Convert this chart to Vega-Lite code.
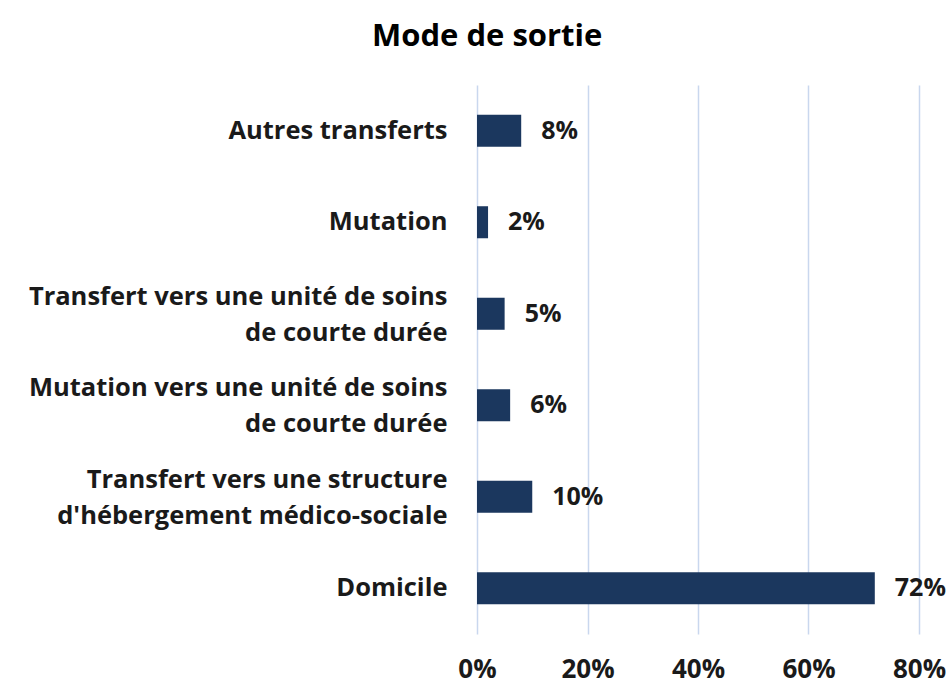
{
  "$schema": "https://vega.github.io/schema/vega-lite/v6.json",
  "width": 442,
  "height": 549,
  "autosize": {"type": "none"},
  "padding": {"left": 477, "top": 85, "right": 30, "bottom": 51},
  "background": "white",
  "title": {"text": "Mode de sortie", "anchor": "middle", "frame": "bounds", "fontSize": 31, "font": "Open Sans", "fontWeight": "bold", "color": "#000000", "offset": 32},
  "config": {"view": {"stroke": null}, "font": "Open Sans"},
  "data": {"values": [
    {"mode": "Autres transferts", "value": 0.08, "lbl": "8%"},
    {"mode": "Mutation", "value": 0.02, "lbl": "2%"},
    {"mode": "Transfert vers une unité de soins|de courte durée", "value": 0.05, "lbl": "5%"},
    {"mode": "Mutation vers une unité de soins|de courte durée", "value": 0.06, "lbl": "6%"},
    {"mode": "Transfert vers une structure|d'hébergement médico-sociale", "value": 0.10, "lbl": "10%"},
    {"mode": "Domicile", "value": 0.72, "lbl": "72%"}
  ]},
  "encoding": {
    "y": {"field": "mode", "type": "nominal", "sort": null, "title": null,
      "scale": {"paddingInner": 0.65, "paddingOuter": 0.325},
      "axis": {"domain": false, "ticks": false, "labelPadding": 30, "labelFontSize": 25.5, "labelFontWeight": "bold", "labelColor": "#1a1a1a", "labelFont": "Open Sans", "labelLimit": 600, "labelLineHeight": 36, "labelAlign": "right", "labelBaseline": "middle",
        "labelOffset": {"condition": {"test": "indexof(datum.value, '|') >= 0", "value": -17}, "value": 0},
        "labelExpr": "split(datum.value, '|')"}},
    "x": {"field": "value", "type": "quantitative", "title": null,
      "scale": {"domain": [0, 0.8], "nice": false},
      "axis": {"format": "%", "values": [0, 0.2, 0.4, 0.6, 0.8], "domain": false, "ticks": false, "labelFlush": false, "labelPadding": 22, "labelFontSize": 26, "labelFontWeight": "bold", "labelColor": "#1a1a1a", "grid": true, "gridColor": "#c9d7ee", "gridWidth": 1.5}}
  },
  "layer": [
    {"mark": {"type": "bar", "color": "#1b375e"}},
    {"mark": {"type": "text", "align": "left", "dx": 20, "fontSize": 25, "fontWeight": "bold", "color": "#1a1a1a", "font": "Open Sans"},
     "encoding": {"text": {"field": "lbl"}}}
  ]
}
